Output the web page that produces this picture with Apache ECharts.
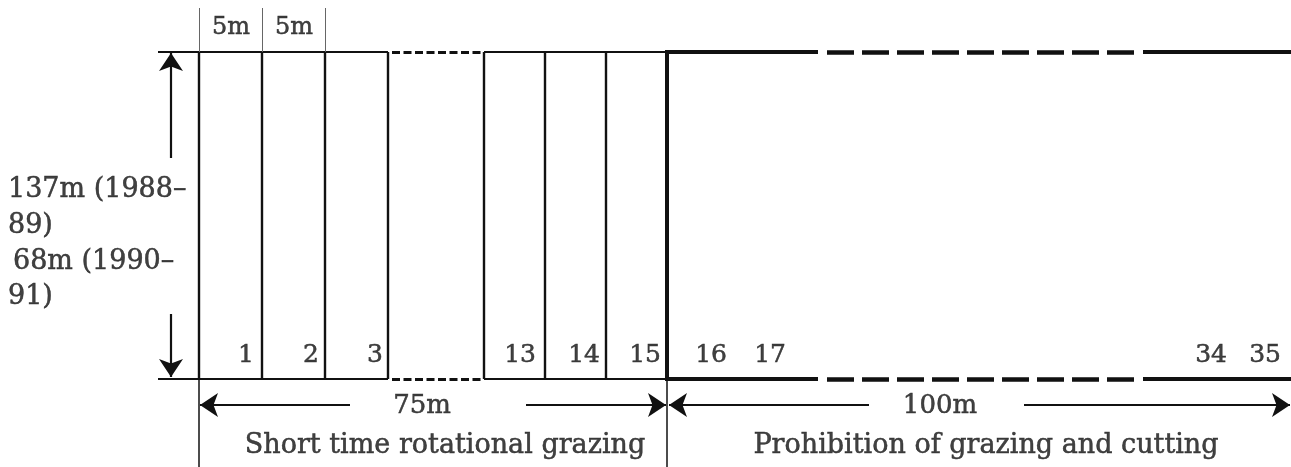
<!DOCTYPE html>
<html>
<head>
<meta charset="utf-8">
<script src="https://cdn.jsdelivr.net/npm/echarts@6/dist/echarts.min.js"></script>
<style>
html,body{margin:0;padding:0;background:#fff;}
#c{width:1291px;height:467px;}
</style>
</head>
<body>
<div id="c"></div>
<script>
// ---- diagram data (in diagram units: x across the field, y down the sheet) ----
var fieldTop = 52, fieldBottom = 379;
var grazedStripEdges = [199, 262, 325, 388, 484, 545, 606];
var divider = 667;
var fieldRight = 1291;
var leftGapStart = 392, leftGapEnd = 483;
var rightSolidEnd = 818, rightDashStart = 827, rightDashEnd = 1134, rightSolidStart = 1143;
var topTicks = [199, 262, 325];
var topTickLabels = ['5m', '5m'];
var topTickLabelX = [231, 294];
var plotNumbers = ['1', '2', '3', '13', '14', '15', '16', '17', '34', '35'];
var plotNumberRightX = [254, 319, 383, 536, 600, 661, 727, 786, 1227, 1281];
var widthLabels = ['75m', '100m'];
var widthLabelX = [422, 940];
var widthArrowSegments = [[350, 200], [526, 666], [869, 669], [1024, 1290]];
var treatments = ['Short time rotational grazing', 'Prohibition of grazing and cutting'];
var treatmentX = [445, 986];
var lengthLines = ['137m (1988\u2013', '89)', '68m (1990\u2013', '91)'];
var lengthLineX = [8, 8, 13, 8];
var lengthLineY = [190, 226, 262, 297];
var lengthArrowX = 171;
var lengthArrowSegments = [[158, 53], [314, 377]];

var FONT = 'DejaVu Serif';
var INK = '#111111';

function seg(x1, y1, x2, y2, w, type, color) {
  return { coords: [[x1, y1], [x2, y2]], lineStyle: { width: w, type: type || 'solid', color: color || INK, opacity: 1 } };
}

var lineData = [];
// top & bottom boundary of grazed part (solid pieces)
lineData.push(seg(158, fieldTop, leftGapStart - 4, fieldTop, 2));
lineData.push(seg(158, fieldBottom, leftGapStart - 4, fieldBottom, 2));
lineData.push(seg(grazedStripEdges[4], fieldTop, divider, fieldTop, 2));
lineData.push(seg(grazedStripEdges[4], fieldBottom, divider, fieldBottom, 2));
// strip edges
grazedStripEdges.forEach(function (x) {
  lineData.push(seg(x, fieldTop, x, fieldBottom, 2.4));
});
// divider (thick)
lineData.push(seg(divider, fieldTop - 2, divider, fieldBottom + 2, 4));
// thin extension lines below
lineData.push(seg(grazedStripEdges[0], fieldBottom, grazedStripEdges[0], 467, 1.5));
lineData.push(seg(divider, fieldBottom, divider, 467, 1.5));
// top thin ticks
topTicks.forEach(function (x) {
  lineData.push(seg(x, 8, x, fieldTop, 1, 'solid', '#666'));
});
// right part solid pieces
[fieldTop, fieldBottom].forEach(function (y) {
  lineData.push(seg(divider, y, rightSolidEnd, y, 4));
  lineData.push(seg(rightSolidStart, y, fieldRight, y, 4));
});

var dashSmall = [];
[fieldTop, fieldBottom].forEach(function (y) {
  dashSmall.push(seg(leftGapStart, y, leftGapEnd, y, 3, [8, 3.5]));
});
var dashBig = [];
[fieldTop, fieldBottom].forEach(function (y) {
  dashBig.push(seg(rightDashStart, y, rightDashEnd, y, 4.5, [27, 8]));
});

var arrowData = widthArrowSegments.map(function (s) { return seg(s[0], 405, s[1], 405, 2.2); });
var vArrow = lengthArrowSegments.map(function (s) { return seg(lengthArrowX, s[0], lengthArrowX, s[1], 2.2); });

function textSeries(points, align, size) {
  return {
    type: 'scatter', symbolSize: 1, itemStyle: { color: 'rgba(0,0,0,0)' }, silent: true,
    data: points,
    label: {
      show: true, position: 'inside', align: align, verticalAlign: 'middle',
      fontFamily: FONT, fontSize: size || 27, color: INK,
      textBorderColor: INK, textBorderWidth: 0.5,
      formatter: function (p) { return p.value[2]; }
    }
  };
}

var topTxt = topTickLabels.map(function (t, i) { return [topTickLabelX[i], 28, t]; });
var numTxt = plotNumbers.map(function (t, i) { return [plotNumberRightX[i], 355, t]; });
var widthTxt = widthLabels.map(function (t, i) { return [widthLabelX[i], 406, t]; });
var treatTxt = treatments.map(function (t, i) { return [treatmentX[i], 446, t]; });
var lenTxt = lengthLines.map(function (t, i) { return [lengthLineX[i], lengthLineY[i], t]; });

var chart = echarts.init(document.getElementById('c'), null, { renderer: 'canvas' });
chart.setOption({
  animation: false,
  backgroundColor: '#ffffff',
  grid: { left: 0, right: 0, top: 0, bottom: 0 },
  xAxis: { type: 'value', min: 0, max: 1291, show: false },
  yAxis: { type: 'value', min: 0, max: 467, inverse: true, show: false },
  series: [
    { type: 'lines', coordinateSystem: 'cartesian2d', silent: true, symbol: 'none', data: lineData },
    { type: 'lines', coordinateSystem: 'cartesian2d', silent: true, symbol: 'none', data: dashSmall },
    { type: 'lines', coordinateSystem: 'cartesian2d', silent: true, symbol: 'none', data: dashBig },
    { type: 'lines', coordinateSystem: 'cartesian2d', silent: true, symbol: ['none', 'arrow'], symbolSize: [14, 18], data: arrowData.concat(vArrow), itemStyle: { color: INK, opacity: 1 } },
    textSeries(topTxt, 'center', 24),
    textSeries(numTxt, 'right', 25),
    textSeries(widthTxt, 'center', 26),
    textSeries(treatTxt, 'center', 27),
    textSeries(lenTxt, 'left', 27)
  ]
});
</script>
</body>
</html>
